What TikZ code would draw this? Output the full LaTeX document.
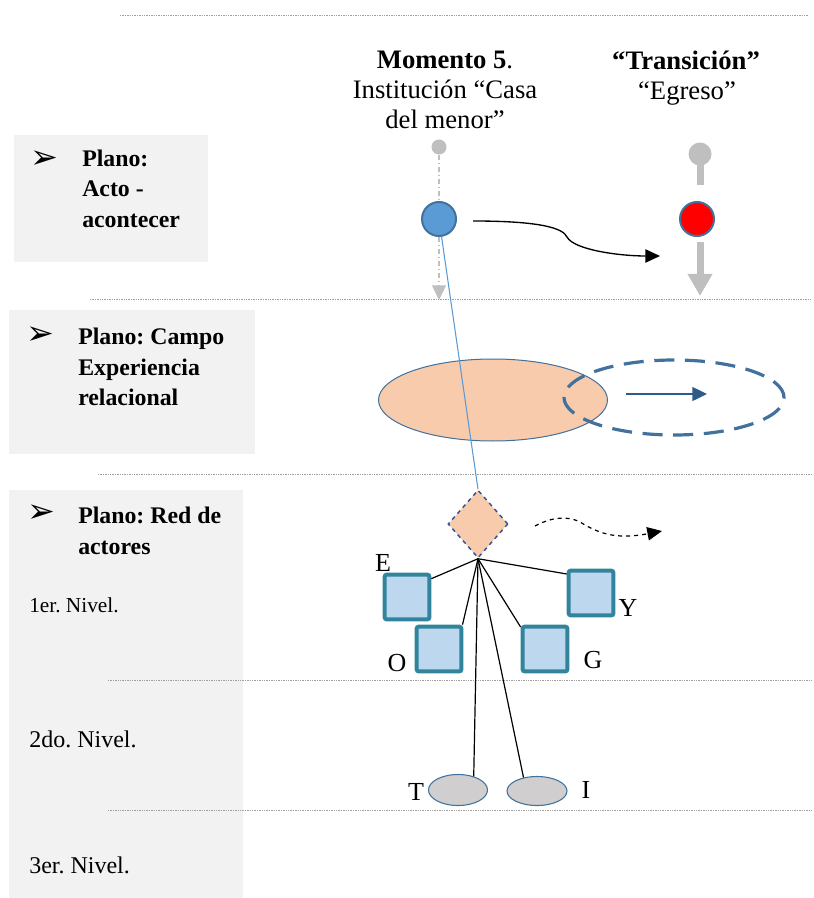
\documentclass[tikz,border=0pt]{standalone}
\usepackage{fontspec}
\setmainfont{Liberation Serif}
\newfontfamily\symfont{DejaVu Sans}
\usetikzlibrary{arrows.meta,shapes.geometric}
\definecolor{boxgray}{HTML}{F2F2F2}
\definecolor{peach}{HTML}{F8CBAD}
\definecolor{bordblue}{HTML}{41719C}
\definecolor{midblue}{HTML}{5B9BD5}
\definecolor{actteal}{HTML}{31849B}
\definecolor{lightblue}{HTML}{BDD7EE}
\definecolor{lgray}{HTML}{BFBFBF}
\definecolor{ovgray}{HTML}{D0CECE}
\definecolor{darkblue}{HTML}{2E5C8A}
\definecolor{diamblue}{HTML}{2F5597}
\frenchspacing
\begin{document}
\begin{tikzpicture}[x=0.75pt,y=-0.75pt,
  sep/.style={gray!75, line width=0.6pt, dash pattern=on 1pt off 0.8pt},
  panel/.style={fill=boxgray},
  head/.style={font=\fontsize{17.85}{24}\selectfont\bfseries, anchor=base west, inner sep=0},
  lvl/.style={font=\fontsize{18}{22}\selectfont, anchor=base west, inner sep=0},
  bul/.style={font=\fontsize{25}{28}\symfont, inner sep=0},
  toptxt/.style={font=\fontsize{20}{24}\selectfont, anchor=base, inner sep=0},
  actor/.style={draw=actteal, fill=lightblue, line width=3pt, minimum size=33.5pt, rounded corners=1.5pt, inner sep=0},
  lett/.style={font=\fontsize{19.5}{22}\selectfont, inner sep=0},
  oval/.style={ellipse, draw=bordblue, fill=ovgray, line width=0.8pt, inner sep=0},
  tie/.style={black, line width=0.9pt}
]
\useasboundingbox (0,0) rectangle (813,898);
% left panels
\fill[panel] (14,135) rectangle (208,262);
\fill[panel] (9,310) rectangle (255,454);
\fill[panel] (9,490) rectangle (243,898);
% separators
\draw[sep] (120,15) -- (808,15);
\draw[sep] (90,299) -- (812,299);
\draw[sep] (98,474) -- (812,474);
\draw[sep] (108,680) -- (812,680);
\draw[sep] (108,810) -- (812,810);
% panel texts
\node[bul] (b1) at (44,160) {➢};
\node[head] (p1a) at (82,167) {Plano:};
\node[head] (p1b) at (82,197) {Acto -};
\node[head] (p1c) at (82,228) {acontecer};
\node[bul] (b2) at (40,336) {➢};
\node[head] (p2a) at (78,344) {Plano: Campo};
\node[head] (p2b) at (78,375) {Experiencia};
\node[head] (p2c) at (78,405) {relacional};
\node[bul] (b3) at (41,514) {➢};
\node[head] (p3a) at (78,523) {Plano: Red de};
\node[head] (p3b) at (78,554) {actores};
\node[lvl, font=\fontsize{16}{20}\selectfont] (n1) at (29,612) {1er. Nivel.};
\node[lvl] (n2) at (29,747) {2do. Nivel.};
\node[lvl] (n3) at (29,873) {3er. Nivel.};
% header texts
\node[toptxt, font=\fontsize{20}{24}\selectfont\bfseries] (m5) at (445,69) {Momento 5\mdseries.};
\node[toptxt] (inst) at (445,99) {Institución “Casa};
\node[toptxt] (delm) at (445,129) {del menor”};
\node[toptxt, font=\fontsize{20}{24}\selectfont\bfseries] (tr) at (686,70) {“Transición”};
\node[toptxt] (eg) at (687,100) {“Egreso”};
% acto plane
\node[circle, fill=lgray, minimum size=11.25pt, inner sep=0] (gs) at (439,147) {};
\node[circle, fill=midblue, draw=bordblue, line width=1.5pt, minimum size=25.5pt, inner sep=0] (bc) at (439,219) {};
\coordinate (gtip) at (439,300);
\draw[lgray, line width=0.8pt, dash pattern=on 4pt off 2pt on 1pt off 2pt] (gs) -- (bc);
\draw[lgray, line width=0.8pt, dash pattern=on 4pt off 2pt on 1pt off 2pt, -{Triangle[length=11pt,width=10.5pt]}] (bc) -- (gtip);
\node[circle, fill=lgray, minimum size=17.25pt, inner sep=0] (gl) at (700,154) {};
\coordinate (gstem) at (700,185);
\draw[lgray, line width=5.25pt] (gl.center) -- (gstem);
\node[circle, fill=red, draw=bordblue, line width=1.5pt, minimum size=25.5pt, inner sep=0] (rc) at (697,219) {};
\coordinate (gdown) at (700,242);
\coordinate (gdtip) at (700,296);
\draw[lgray, line width=5.25pt, -{Triangle[length=16.5pt,width=17.5pt]}] (gdown) -- (gdtip);
\coordinate (ca) at (473,221);
\coordinate (cb) at (660,256);
\draw[black, line width=1pt, -{Triangle[length=11pt,width=10pt]}] (ca) .. controls (540,221) and (563,228) .. (567,237) .. controls (574,250) and (620,256) .. (cb);
% campo plane
\node[ellipse, fill=peach, draw=bordblue, line width=0.75pt, minimum width=171.75pt, minimum height=61.5pt, inner sep=0] (fe) at (493,400) {};
\node[ellipse, draw=bordblue, line width=2.4pt, dash pattern=on 15pt off 8pt, minimum width=165pt, minimum height=56.25pt, inner sep=0] (de) at (674,397.5) {};
\coordinate (aa) at (626,394);
\coordinate (ab) at (707,394);
\draw[darkblue, line width=1pt, -{Triangle[length=11pt,width=10.5pt]}] (aa) -- (ab);
% red plane
\node[diamond, fill=peach, draw=diamblue, dashed, line width=1.1pt, minimum width=45pt, minimum height=51pt, inner sep=0] (dm) at (478,524) {};
\draw[midblue, line width=0.8pt] (bc) -- (dm.north);
\coordinate (wa) at (535,526);
\coordinate (wb) at (662,531);
\draw[black, line width=0.9pt, dashed, -{Triangle[length=11pt,width=10pt,sep=0pt]}] (wa) .. controls (550,518) and (566,515) .. (580,522) .. controls (598,533) and (615,540) .. (wb);
\node[actor] (E) at (407,597) {};
\node[actor] (O) at (439,649) {};
\node[actor] (G) at (545,649) {};
\node[actor] (Y) at (591,593) {};
\node[oval, minimum width=44.25pt, minimum height=23.25pt] (T) at (458,790) {};
\node[oval, minimum width=45pt, minimum height=21.75pt] (I) at (537,791) {};
\draw[tie] (dm.south) -- (E.37);
\draw[tie] (dm.south) -- (Y.142);
\draw[tie] (dm.south) -- (O.46);
\draw[tie] (dm.south) -- (G.138);
\draw[tie] (dm.south) -- (T.41);
\draw[tie] (dm.south) -- (I.135);
\node[lett] (lE) at (383,563) {E};
\node[lett] (lO) at (397,663) {O};
\node[lett] (lG) at (593,660) {G};
\node[lett] (lY) at (628,608) {Y};
\node[lett] (lT) at (416,792) {T};
\node[lett] (lI) at (586,790) {I};
\end{tikzpicture}
\end{document}
